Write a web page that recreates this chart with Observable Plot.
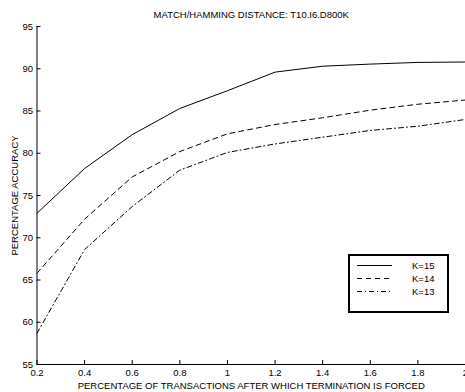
<!DOCTYPE html>
<html>
<head>
<meta charset="utf-8">
<script src="https://cdn.jsdelivr.net/npm/d3@7"></script>
<script src="https://cdn.jsdelivr.net/npm/@observablehq/plot@0.6"></script>
<style>
  html, body { margin: 0; padding: 0; background: #fff; }
  #wrap { position: relative; width: 465px; height: 392px; overflow: hidden; }
  #legend { position: absolute; left: 348px; top: 254px; }
</style>
</head>
<body>
<div id="wrap"></div>
<script>
const titleText = "MATCH/HAMMING DISTANCE: T10.I6.D800K";
const xLabel = "PERCENTAGE OF TRANSACTIONS AFTER WHICH TERMINATION IS FORCED";
const yLabel = "PERCENTAGE ACCURACY";
const xValues = [0.2, 0.4, 0.6, 0.8, 1.0, 1.2, 1.4, 1.6, 1.8, 2.0];
const k15 = [72.9, 78.2, 82.2, 85.3, 87.4, 89.6, 90.3, 90.55, 90.75, 90.8];
const k14 = [65.8, 72.2, 77.2, 80.2, 82.3, 83.4, 84.2, 85.1, 85.8, 86.3];
const k13 = [58.7, 68.6, 73.7, 78.0, 80.1, 81.1, 81.9, 82.7, 83.2, 84.0];
const seriesNames = ["K=15", "K=14", "K=13"];
const xTicks = [0.2, 0.4, 0.6, 0.8, 1, 1.2, 1.4, 1.6, 1.8, 2];
const yTicks = [55, 60, 65, 70, 75, 80, 85, 90, 95];

const dashes = ["none", "5,4", "5,3,1,3"];
const seriesData = [k15, k14, k13].map((vals, i) =>
  xValues.map((x, j) => ({x, y: vals[j], k: seriesNames[i]})));

const font = "Liberation Sans, Arial, Helvetica, sans-serif";

const chart = Plot.plot({
  width: 465,
  height: 392,
  marginLeft: 36.5,
  marginRight: 0,
  marginTop: 26,
  marginBottom: 28,
  style: {fontFamily: font, fontSize: "9.5px", color: "#000", background: "#fff"},
  x: {domain: [0.2, 2], ticks: xTicks},
  y: {domain: [55, 95], ticks: yTicks},
  marks: [
    ...seriesData.map((d, i) => Plot.line(d, {x: "x", y: "y", stroke: "#000", strokeWidth: 1, strokeDasharray: dashes[i]})),
    Plot.axisX({ticks: xTicks, tickSize: -4, tickPadding: 9, tickFormat: d => String(d), label: xLabel, labelAnchor: "center", labelArrow: "none", labelOffset: 24, fontSize: 9.5}),
    Plot.axisY({ticks: yTicks, tickSize: -4, tickPadding: 8, tickFormat: d => String(d), label: yLabel, labelAnchor: "center", labelArrow: "none", labelOffset: 26, fontSize: 9.5}),
    Plot.ruleY([55], {stroke: "#000", strokeWidth: 1}),
    Plot.ruleX([0.2], {stroke: "#000", strokeWidth: 1}),
    Plot.text([titleText], {frameAnchor: "top", dy: -15, fontSize: 9.5, fill: "#000"})
  ]
});
document.getElementById("wrap").appendChild(chart);

// legend box
const lg = d3.select("#wrap").append("svg").attr("id", "legend")
  .attr("width", 101).attr("height", 59);
lg.append("rect").attr("x", 1).attr("y", 1).attr("width", 99).attr("height", 57)
  .attr("fill", "#fff").attr("stroke", "#000").attr("stroke-width", 2);
seriesNames.forEach((name, i) => {
  const yy = 11.5 + i * 13;
  lg.append("line").attr("x1", 9).attr("x2", 44).attr("y1", yy).attr("y2", yy)
    .attr("stroke", "#000").attr("stroke-width", 1)
    .attr("stroke-dasharray", dashes[i] === "none" ? null : dashes[i]);
  lg.append("text").attr("x", 64).attr("y", yy).attr("dy", "0.35em")
    .attr("font-family", font).attr("font-size", 9.5).attr("fill", "#000").text(name);
});
</script>
</body>
</html>
